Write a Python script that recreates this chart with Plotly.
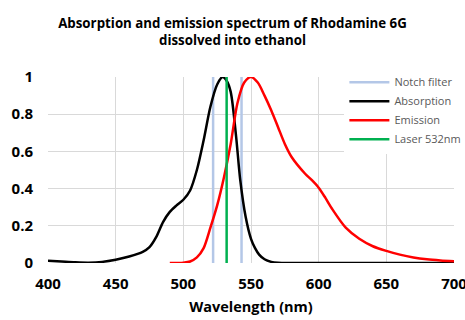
import plotly.graph_objects as go

# Data
abs_x = [400, 410, 420, 430, 440, 450, 460, 470, 475, 480, 485, 490, 495, 500, 505, 510, 515,
         520, 525, 529, 532, 535, 539, 542, 546, 550, 553, 556, 560, 565, 570, 580, 600, 650, 700]
abs_y = [0.012, 0.008, 0.004, 0.002, 0.006, 0.018, 0.035, 0.06, 0.085, 0.14, 0.22, 0.275, 0.31, 0.34,
         0.39, 0.5, 0.66, 0.84, 0.96, 1.0, 0.98, 0.92, 0.68, 0.45, 0.25, 0.13, 0.08, 0.045, 0.02,
         0.006, 0.001, 0, 0, 0, 0]

em_x = [490, 500, 505, 510, 515, 520, 525, 530, 535, 540, 545, 550, 555, 560, 565, 570, 575, 580,
        590, 595, 600, 605, 610, 620, 630, 640, 650, 660, 670, 680, 690, 700]
em_y = [0, 0.002, 0.008, 0.03, 0.08, 0.19, 0.31, 0.46, 0.64, 0.86, 0.97, 1.0, 0.97, 0.9, 0.82,
        0.73, 0.64, 0.57, 0.48, 0.445, 0.405, 0.35, 0.29, 0.19, 0.13, 0.09, 0.065, 0.045, 0.03,
        0.02, 0.014, 0.01]

notch_x = [522, 522, None, 543, 543]
notch_y = [0, 1, None, 0, 1]
laser_x = [532, 532]
laser_y = [0, 1]

fig = go.Figure()

fig.add_trace(go.Scatter(x=notch_x, y=notch_y, mode='lines', name='Notch filter',
                         line=dict(color='#b4c7e7', width=2.5)))
fig.add_trace(go.Scatter(x=abs_x, y=abs_y, mode='lines', name='Absorption',
                         line=dict(color='black', width=2.5, shape='spline', smoothing=0.8)))
fig.add_trace(go.Scatter(x=em_x, y=em_y, mode='lines', name='Emission',
                         line=dict(color='#ff0000', width=2.5, shape='spline', smoothing=0.8)))
fig.add_trace(go.Scatter(x=laser_x, y=laser_y, mode='lines', name='Laser 532nm',
                         line=dict(color='#00b050', width=2.5)))

fig.update_layout(
    width=465, height=320,
    margin=dict(l=48, r=11, t=77, b=57, autoexpand=False),
    paper_bgcolor='white', plot_bgcolor='white',
    font=dict(family='Open Sans', color='black'),
    title=dict(text='Absorption and emission spectrum of Rhodamine 6G<br>dissolved into ethanol',
               x=0.5, xanchor='center', y=0.912, yanchor='top',
               font=dict(size=13.3, weight='bold', color='black')),
    legend=dict(x=0.73, y=1.05, xanchor='left', yanchor='top',
                bgcolor='white', font=dict(size=11, color='#595959'),
                tracegroupgap=0, itemwidth=40),
    showlegend=True,
)

fig.update_xaxes(range=[400, 700], tickvals=[400, 450, 500, 550, 600, 650, 700],
                 showgrid=True, gridcolor='#d9d9d9', gridwidth=1,
                 zeroline=False, showline=False, ticks='',
                 tickfont=dict(size=15, weight='bold', color='black'),
                 ticklabelstandoff=10, ticklabeloverflow='allow',
                 title=dict(text='Wavelength (nm)', font=dict(size=14.5, weight='bold', color='black'),
                            standoff=9))
fig.update_yaxes(range=[0, 1], tickvals=[0, 0.2, 0.4, 0.6, 0.8, 1],
                 showgrid=True, gridcolor='#d9d9d9', gridwidth=1,
                 zeroline=False, showline=False, ticks='',
                 tickfont=dict(size=15, weight='bold', color='black'), ticklabelstandoff=14)

fig.update_traces(cliponaxis=False)

# page body has a default 8px margin; drop it so the figure sits at the corner
fig.write_html("out.html", config={'displayModeBar': False},
               post_script="document.body.style.margin='0px';")
